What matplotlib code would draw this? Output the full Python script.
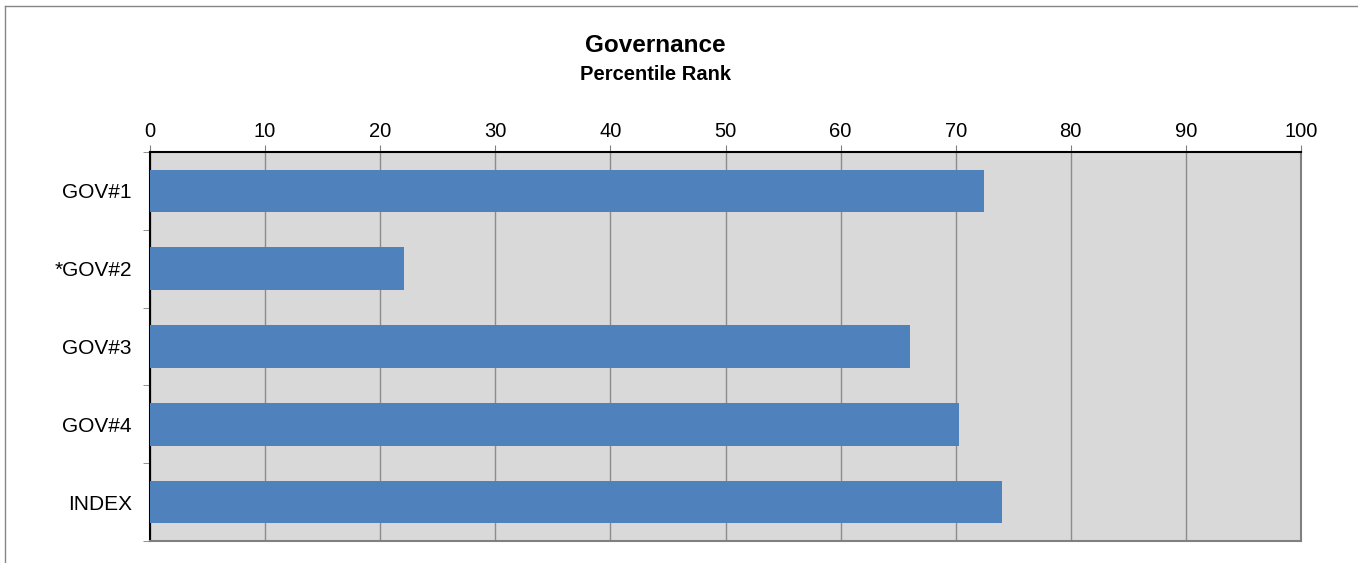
import matplotlib.pyplot as plt
import numpy as np

plt.rcParams['font.family'] = ['Liberation Sans', 'DejaVu Sans']

categories = ['GOV#1', '*GOV#2', 'GOV#3', 'GOV#4', 'INDEX']
values = [72.5, 22.1, 66.0, 70.3, 74.0]
ticks = [0, 10, 20, 30, 40, 50, 60, 70, 80, 90, 100]

fig = plt.figure(figsize=(13.58, 5.63), dpi=100)
ax = fig.add_axes([150/1358, 1-541/563, 1151/1358, 389/563])

y = np.arange(len(categories))
ax.barh(y, values, height=0.55, color='#4F81BD', zorder=3)
ax.set_xlim(0, 100)
ax.set_ylim(len(categories)-0.5, -0.5)
ax.set_facecolor('#D9D9D9')

ax.set_xticks(ticks)
ax.xaxis.tick_top()
ax.tick_params(axis='x', length=5, color='#808080', labelsize=14.5, pad=3)
ax.grid(axis='x', color='#8C8C8C', linewidth=1, zorder=1)

ax.set_yticks(y)
ax.set_yticklabels(categories)
ax.set_yticks(np.arange(len(categories)+1)-0.5, minor=True)
ax.tick_params(axis='y', which='major', length=0, labelsize=15, pad=13)
ax.tick_params(axis='y', which='minor', length=5, color='#808080')

ax.spines['left'].set_color('black')
ax.spines['top'].set_color('black')
ax.spines['right'].set_color('#808080')
ax.spines['bottom'].set_color('#808080')
for s in ax.spines.values():
    s.set_linewidth(1.5)

fig.text(655/1358, 1-46/563, 'Governance', ha='center', va='center', fontsize=17.5, fontweight='bold')
fig.text(655/1358, 1-75/563, 'Percentile Rank', ha='center', va='center', fontsize=14.5, fontweight='bold')

# outer chart frame
fig.add_artist(plt.Line2D([5/1358, 5/1358], [0, 1-6/563], color='#868686', linewidth=1))
fig.add_artist(plt.Line2D([5/1358, 1], [1-6/563, 1-6/563], color='#868686', linewidth=1))

fig.savefig('out.png', dpi=100)
